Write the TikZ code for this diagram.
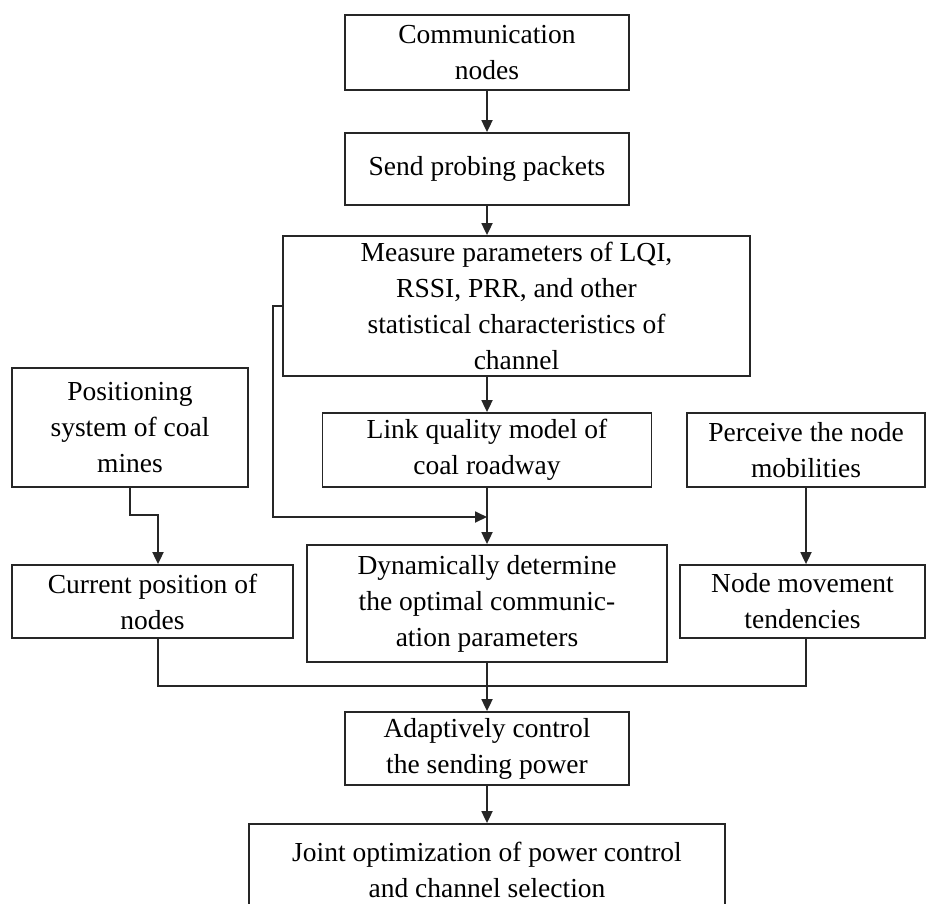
\documentclass[tikz,border=0pt]{standalone}
\usepackage{fontspec}
\setmainfont{Liberation Serif}
\usetikzlibrary{arrows.meta,calc}
\begin{document}
\begin{tikzpicture}[x=1pt,y=-1pt,
  box/.style={draw=black!85,line width=1.8pt,align=center,inner sep=0pt,
    font=\fontsize{27.5}{36}\selectfont,text=black},
  arr/.style={draw=black!85,line width=1.8pt,-{Triangle[length=12pt,width=11pt]}},
  ln/.style={draw=black!85,line width=1.8pt}]
\useasboundingbox (0,0) rectangle (940,903);
\clip (0,0) rectangle (940,903);
\fill[white] (0,0) rectangle (940,903);

\node[box,minimum width=284pt,minimum height=75pt] (n1) at (487,52.5) {Communication\\nodes};
\node[box,minimum width=284pt,minimum height=72pt] (n2) at (487,169) {Send probing packets};
\node[box,minimum width=467pt,minimum height=140pt] (n3) at (516.5,306) {Measure parameters of LQI,\\RSSI, PRR, and other\\statistical characteristics of\\channel};
\node[box,minimum width=329pt,minimum height=74pt] (n4) at (487,450) {Link quality model of\\coal roadway};
\node[box,minimum width=236pt,minimum height=119pt] (pos) at (130,427.5) {Positioning\\system of coal\\mines};
\node[box,minimum width=238pt,minimum height=74pt] (per) at (806,450) {Perceive the node\\mobilities};
\node[box,minimum width=281pt,minimum height=73pt] (cur) at (152.5,601.5) {Current position of\\nodes};
\node[box,minimum width=360pt,minimum height=117pt] (dyn) at (487,603.5) {Dynamically determine\\the optimal communic-\\ation parameters};
\node[box,minimum width=245pt,minimum height=73pt] (nm) at (802.5,601.5) {Node movement\\tendencies};
\node[box,minimum width=284pt,minimum height=73pt] (ada) at (487,748.5) {Adaptively control\\the sending power};
\node[box,minimum width=476pt,minimum height=92pt] (joint) at (487,870) {Joint optimization of power control\\and channel selection};

\coordinate (fb1) at (273,306);
\coordinate (fb2) at (273,517);

\draw[arr] (n1.south) -- (n2.north);
\draw[arr] (n2.south) -- (n2.south |- n3.north);
\draw[arr] (n3.south -| n4.north) -- (n4.north);
\draw[arr] (n4.south) -- (dyn.north);
\draw[arr] (n3.west) -- (n3.west -| fb1) -- (fb2) -- (fb2 -| n4.south);
\draw[arr] (pos.south) -- ++(0,27) -| ([xshift=5.5pt]cur.north);
\draw[arr] (per.south) -- (per.south |- nm.north);
\draw[ln] ([xshift=5.5pt]cur.south) -- ++(0,47) -| (per.south |- nm.south);
\draw[arr] (dyn.south) -- (ada.north);
\draw[arr] (ada.south) -- (joint.north);
\end{tikzpicture}
\end{document}
